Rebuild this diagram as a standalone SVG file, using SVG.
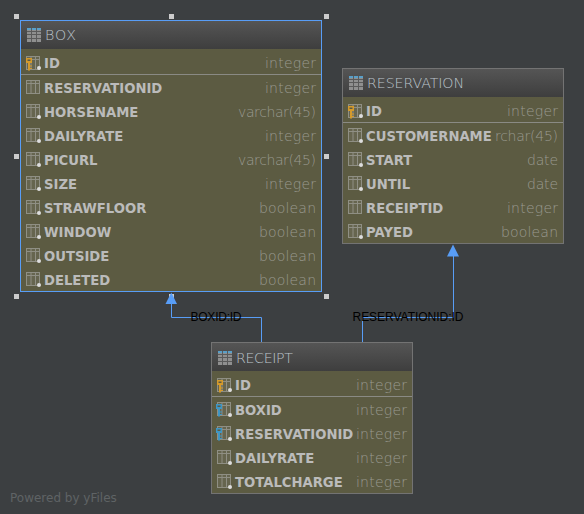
<svg xmlns="http://www.w3.org/2000/svg" width="584" height="514" viewBox="0 0 584 514">
<defs>
<linearGradient id="hg" x1="0" y1="0" x2="0" y2="1"><stop offset="0" stop-color="#555555"/><stop offset="1" stop-color="#3e3e3e"/></linearGradient>
<g id="tbl"><rect x="0" y="0" width="14" height="14" fill="#8f8f8f"/><rect x="0" y="0" width="14" height="2" fill="#5a9fc8"/><path d="M4.500 0V14M9.500 0V14M0 3.500H14M0 6.500H14M0 10.500H14" stroke="#5a5a5a" fill="none"/></g>
<g id="col"><rect x="0.500" y="0.500" width="13" height="13" fill="#66654f" stroke="#8f8f84"/><path d="M5 1V13M9.500 1V13" stroke="#8f8f84" fill="none"/><path d="M1 3.500H13" stroke="#8f8f84"/></g>
<circle id="dot" r="2" fill="#dddddd"/>
<g id="key"><path d="M-3 -6H3V-1H1V6L0 7L-1 6V-1H-3Z" fill="#d49a2c"/><rect x="-1.500" y="-4.500" width="3" height="1.500" fill="#5c5b42"/><path d="M1 2H3M1 4.500H3" stroke="#d49a2c"/></g>
<g id="fk"><path d="M-3 -6H3V-1H1V6L0 7L-1 6V-1H-3Z" fill="#3f96c4"/><rect x="-1.500" y="-4.500" width="3" height="1.500" fill="#5c5b42"/><path d="M1 2H3M1 4.500H3" stroke="#3f96c4"/></g>
</defs>
<style>
text{font-family:"DejaVu Sans",sans-serif}
.h{font-size:14.2px;font-weight:200;fill:#bcc4cb}
.n{font-size:13.2px;font-weight:700;fill:#bbbbbb}
.t{font-size:14px;font-weight:200;fill:#9a9a90;text-anchor:end}
.box{fill:#5c5b42;stroke:#737373}
.sel{fill:none;stroke:#589df6}
.sep{stroke:#8a8a84;stroke-width:1}
.e{fill:none;stroke:#589df6;stroke-width:1}
.lb{font-size:12px;fill:#000}
.hd{fill:#cccccc}
</style>
<rect width="584" height="514" fill="#3c3f41"/>
<g id="handles">
<rect class="hd" x="14" y="14" width="5" height="5"/><rect class="hd" x="169" y="14" width="5" height="5"/><rect class="hd" x="324" y="14" width="5" height="5"/>
<rect class="hd" x="14" y="154" width="5" height="5"/><rect class="hd" x="324" y="154" width="5" height="5"/>
<rect class="hd" x="14" y="294" width="5" height="5"/><rect class="hd" x="169" y="294" width="5" height="5"/><rect class="hd" x="324" y="294" width="5" height="5"/>
</g>
<g id="connectors">
<path class="e" d="M261.500 343V317.500H171.500V303"/>
<path class="e" d="M362.500 343V317.500H453.500V255"/>
<path d="M165.500 304L171.300 292.500L177 304Z" fill="#589df6"/>
<path d="M447 256.500L453 244.500L459 256.500Z" fill="#589df6"/>
<text class="lb" x="190.500" y="321" style="font-family:'Liberation Sans',sans-serif" textLength="51">BOXID:ID</text>
<text class="lb" x="352.500" y="321" style="font-family:'Liberation Sans',sans-serif" textLength="111">RESERVATIONID:ID</text>
</g>
<g id="node-box">
<rect x="20.500" y="20.500" width="301" height="271" class="box"/>
<rect x="21" y="21" width="300" height="28" fill="url(#hg)"/>
<rect x="20.500" y="20.500" width="301" height="271" class="sel"/>
<use href="#tbl" x="27" y="28"/>
<text class="h" x="45" y="40" textLength="31">BOX</text>
<path class="sep" d="M21 74.500H321"/>
<text class="n" x="44" y="68">ID</text><text class="t" x="316" y="68" textLength="51">integer</text>
<text class="n" x="44" y="93">RESERVATIONID</text><text class="t" x="316" y="93" textLength="51">integer</text>
<text class="n" x="44" y="117">HORSENAME</text><text class="t" x="316" y="117" textLength="78">varchar(45)</text>
<text class="n" x="44" y="141">DAILYRATE</text><text class="t" x="316" y="141" textLength="51">integer</text>
<text class="n" x="44" y="165">PICURL</text><text class="t" x="316" y="165" textLength="78">varchar(45)</text>
<text class="n" x="44" y="189">SIZE</text><text class="t" x="316" y="189" textLength="51">integer</text>
<text class="n" x="44" y="213">STRAWFLOOR</text><text class="t" x="316" y="213" textLength="57">boolean</text>
<text class="n" x="44" y="237">WINDOW</text><text class="t" x="316" y="237" textLength="57">boolean</text>
<text class="n" x="44" y="261">OUTSIDE</text><text class="t" x="316" y="261" textLength="57">boolean</text>
<text class="n" x="44" y="285">DELETED</text><text class="t" x="316" y="285" textLength="57">boolean</text>
<use href="#col" x="26" y="56"/><use href="#key" x="29" y="64"/><use href="#dot" x="39" y="68"/>
<use href="#col" x="26" y="80"/>
<use href="#col" x="26" y="104"/><use href="#dot" x="39" y="117"/>
<use href="#col" x="26" y="128"/><use href="#dot" x="39" y="141"/>
<use href="#col" x="26" y="152"/><use href="#dot" x="39" y="165"/>
<use href="#col" x="26" y="176"/><use href="#dot" x="39" y="189"/>
<use href="#col" x="26" y="200"/><use href="#dot" x="39" y="213"/>
<use href="#col" x="26" y="224"/><use href="#dot" x="39" y="237"/>
<use href="#col" x="26" y="248"/><use href="#dot" x="39" y="261"/>
<use href="#col" x="26" y="272"/><use href="#dot" x="39" y="285"/>
</g>
<g id="node-reservation">
<rect x="342.500" y="68.500" width="221" height="175" class="box"/>
<rect x="343" y="69" width="220" height="28" fill="url(#hg)"/>
<use href="#tbl" x="349" y="76"/>
<text class="h" x="367" y="88" textLength="97">RESERVATION</text>
<path class="sep" d="M343 122.500H563"/>
<text class="n" x="366" y="116">ID</text><text class="t" x="558" y="116" textLength="51">integer</text>
<text class="t" x="558" y="141" textLength="63">rchar(45)</text>
<text class="n" x="366" y="141">CUSTOMERNAME</text>
<text class="n" x="366" y="165">START</text><text class="t" x="558" y="165" textLength="31">date</text>
<text class="n" x="366" y="189">UNTIL</text><text class="t" x="558" y="189" textLength="31">date</text>
<text class="n" x="366" y="213">RECEIPTID</text><text class="t" x="558" y="213" textLength="51">integer</text>
<text class="n" x="366" y="237">PAYED</text><text class="t" x="558" y="237" textLength="57">boolean</text>
<use href="#col" x="348" y="104"/><use href="#key" x="351" y="112"/><use href="#dot" x="361" y="116"/>
<use href="#col" x="348" y="128"/><use href="#dot" x="361" y="141"/>
<use href="#col" x="348" y="152"/><use href="#dot" x="361" y="165"/>
<use href="#col" x="348" y="176"/><use href="#dot" x="361" y="189"/>
<use href="#col" x="348" y="200"/>
<use href="#col" x="348" y="224"/><use href="#dot" x="361" y="237"/>
</g>
<g id="node-receipt">
<rect x="211.500" y="342.500" width="201" height="151" class="box"/>
<rect x="212" y="343" width="200" height="28" fill="url(#hg)"/>
<use href="#tbl" x="218" y="351"/>
<text class="h" x="236" y="363" textLength="57">RECEIPT</text>
<path class="sep" d="M212 396.500H412"/>
<text class="n" x="235" y="390">ID</text><text class="t" x="407" y="390" textLength="51">integer</text>
<text class="n" x="235" y="415">BOXID</text><text class="t" x="407" y="415" textLength="51">integer</text>
<text class="n" x="235" y="439">RESERVATIONID</text><text class="t" x="407" y="439" textLength="51">integer</text>
<text class="n" x="235" y="463">DAILYRATE</text><text class="t" x="407" y="463" textLength="51">integer</text>
<text class="n" x="235" y="487">TOTALCHARGE</text><text class="t" x="407" y="487" textLength="51">integer</text>
<use href="#col" x="217" y="378"/><use href="#key" x="220" y="386"/><use href="#dot" x="230" y="390"/>
<use href="#col" x="217" y="402"/><use href="#fk" x="219" y="410"/><use href="#dot" x="230" y="415"/>
<use href="#col" x="217" y="426"/><use href="#fk" x="219" y="434"/><use href="#dot" x="230" y="439"/>
<use href="#col" x="217" y="450"/><use href="#dot" x="230" y="463"/>
<use href="#col" x="217" y="474"/><use href="#dot" x="230" y="487"/>
</g>
<text x="10" y="502" font-size="12" fill="#5f6365">Powered by yFiles</text>
</svg>
